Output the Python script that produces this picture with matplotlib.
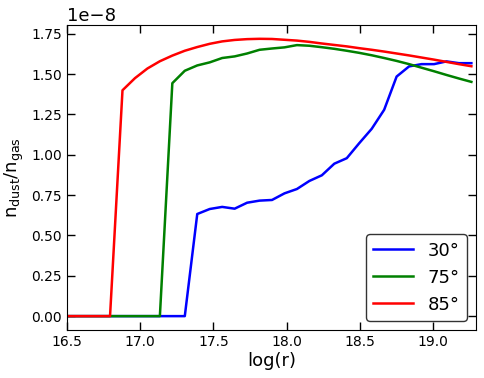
import matplotlib
matplotlib.use('Agg')
import matplotlib.pyplot as plt

# log(r) grid
log_r = [16.455, 16.54, 16.625, 16.71, 16.795, 16.88, 16.965, 17.05, 17.135,
         17.22, 17.305, 17.39, 17.475, 17.56, 17.645, 17.73, 17.815, 17.90,
         17.985, 18.07, 18.155, 18.24, 18.325, 18.41, 18.495, 18.58, 18.665,
         18.75, 18.835, 18.92, 19.005, 19.09, 19.175, 19.26]

# dust-to-gas ratio (units of 1e-8)
ratio_30 = [0, 0, 0, 0, 0, 0, 0, 0, 0,
            0, 0, 0.633, 0.664, 0.677, 0.666, 0.703, 0.716, 0.720,
            0.761, 0.788, 0.838, 0.873, 0.945, 0.979, 1.072, 1.161, 1.279,
            1.485, 1.548, 1.562, 1.562, 1.579, 1.568, 1.568]
ratio_75 = [0, 0, 0, 0, 0, 0, 0, 0, 0,
            1.444, 1.521, 1.554, 1.573, 1.600, 1.610, 1.628, 1.651, 1.659,
            1.666, 1.680, 1.676, 1.667, 1.657, 1.645, 1.632, 1.617, 1.600,
            1.582, 1.562, 1.540, 1.518, 1.495, 1.473, 1.452]
ratio_85 = [0, 0, 0, 0, 0, 1.40, 1.475, 1.535, 1.580,
            1.615, 1.645, 1.668, 1.688, 1.703, 1.712, 1.717, 1.719, 1.718,
            1.713, 1.708, 1.700, 1.690, 1.681, 1.672, 1.661, 1.651, 1.640,
            1.628, 1.616, 1.603, 1.590, 1.576, 1.562, 1.549]

labels = ['30°', '75°', '85°']
colors = ['b', 'g', 'r']

fig = plt.figure(figsize=(4.84, 3.78), dpi=100)
ax = fig.add_axes([0.138, 0.127, 0.845, 0.807])

for series, label, color in zip([ratio_30, ratio_75, ratio_85], labels, colors):
    ax.plot(log_r, [v * 1e-8 for v in series], color=color, lw=1.8, label=label)

ax.set_xlim(16.5, 19.29)
ax.set_xticks([16.5, 17.0, 17.5, 18.0, 18.5, 19.0])
ax.set_yticks([0, 0.25e-8, 0.5e-8, 0.75e-8, 1.0e-8, 1.25e-8, 1.5e-8, 1.75e-8])
ax.tick_params(direction='in', top=True, right=True, length=6, width=1,
               labelsize=10)
ax.yaxis.get_offset_text().set_fontsize(13)

ax.set_xlabel('log(r)', fontsize=13, labelpad=2)
ax.set_ylabel(r'$\mathrm{n_{dust}/n_{gas}}$', fontsize=13, labelpad=4)

leg = ax.legend(loc='lower right', fontsize=13, handlelength=2.2,
                framealpha=1, edgecolor='0.2')

plt.savefig('out.png', dpi=100)
plt.close()
